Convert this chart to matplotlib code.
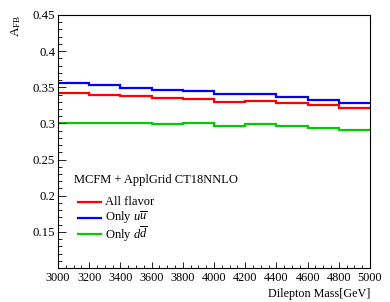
import numpy as np
import matplotlib.pyplot as plt
from matplotlib.ticker import MultipleLocator

plt.rcParams['font.family'] = ['Liberation Serif', 'DejaVu Serif']
plt.rcParams['mathtext.fontset'] = 'custom'
plt.rcParams['mathtext.rm'] = 'Liberation Serif'
plt.rcParams['mathtext.it'] = 'Liberation Serif:italic'

# bin edges in dilepton mass [GeV]
edges = np.arange(3000, 5001, 200)

# forward-backward asymmetry per bin
afb_all = [0.3421, 0.3398, 0.3380, 0.3356, 0.3342, 0.3301, 0.3314, 0.3278, 0.3251, 0.3218]
afb_uu = [0.3555, 0.3527, 0.3495, 0.3467, 0.3444, 0.3403, 0.3406, 0.3361, 0.3329, 0.3287]
afb_dd = [0.3006, 0.3002, 0.3002, 0.2997, 0.3002, 0.2969, 0.2988, 0.2960, 0.2937, 0.2909]

labels = ['All flavor', r'Only $u\overline{u}$', r'Only $d\overline{d}$']
colors = ['#ff0000', '#0000ff', '#00cc00']

fig = plt.figure(figsize=(3.9, 3.02), dpi=100)
ax = fig.add_axes([58/390, 34/302, 312/390, 253/302])

for vals, c in zip([afb_all, afb_uu, afb_dd], colors):
    ax.stairs(vals, edges, color=c, lw=1.6, baseline=None)

ax.set_xlim(3000, 5000)
ax.set_ylim(0.1, 0.45)
ax.xaxis.set_major_locator(MultipleLocator(200))
ax.xaxis.set_minor_locator(MultipleLocator(50))
ax.yaxis.set_minor_locator(MultipleLocator(0.01))
ax.set_yticks([0.15, 0.2, 0.25, 0.3, 0.35, 0.4, 0.45])
ax.set_yticklabels(['0.15', '0.2', '0.25', '0.3', '0.35', '0.4', '0.45'])
ax.tick_params(which='both', direction='in', width=0.6)
ax.tick_params(axis='x', labelsize=8.8, pad=3)
ax.tick_params(axis='y', labelsize=9.2, pad=2)
ax.tick_params(axis='x', which='major', length=4)
ax.tick_params(axis='x', which='minor', length=2)
ax.tick_params(axis='y', which='major', length=6)
ax.tick_params(axis='y', which='minor', length=3)
for s in ax.spines.values():
    s.set_linewidth(0.8)

ax.set_xlabel('Dilepton Mass[GeV]', fontsize=8.7)
ax.xaxis.set_label_coords(1.0, -0.08)
ax.xaxis.label.set_horizontalalignment('right')
ax.set_ylabel(r'A$_{\mathrm{FB}}$', fontsize=9.5)
ax.yaxis.set_label_coords(-0.155, 1.0)
ax.yaxis.label.set_verticalalignment('top')
ax.yaxis.label.set_horizontalalignment('right')

# legend drawn by hand, ROOT style
ax.text(0.051, 0.348, 'MCFM + ApplGrid CT18NNLO', transform=ax.transAxes,
        fontsize=9, va='center', ha='left')
for lab, c, yy in zip(labels, colors, [0.262, 0.198, 0.134]):
    ax.plot([0.064, 0.138], [yy, yy], color=c, lw=1.6, transform=ax.transAxes)
    ax.text(0.151, yy, lab, transform=ax.transAxes, fontsize=9,
            va='center', ha='left')

fig.savefig('out.png', dpi=100)
